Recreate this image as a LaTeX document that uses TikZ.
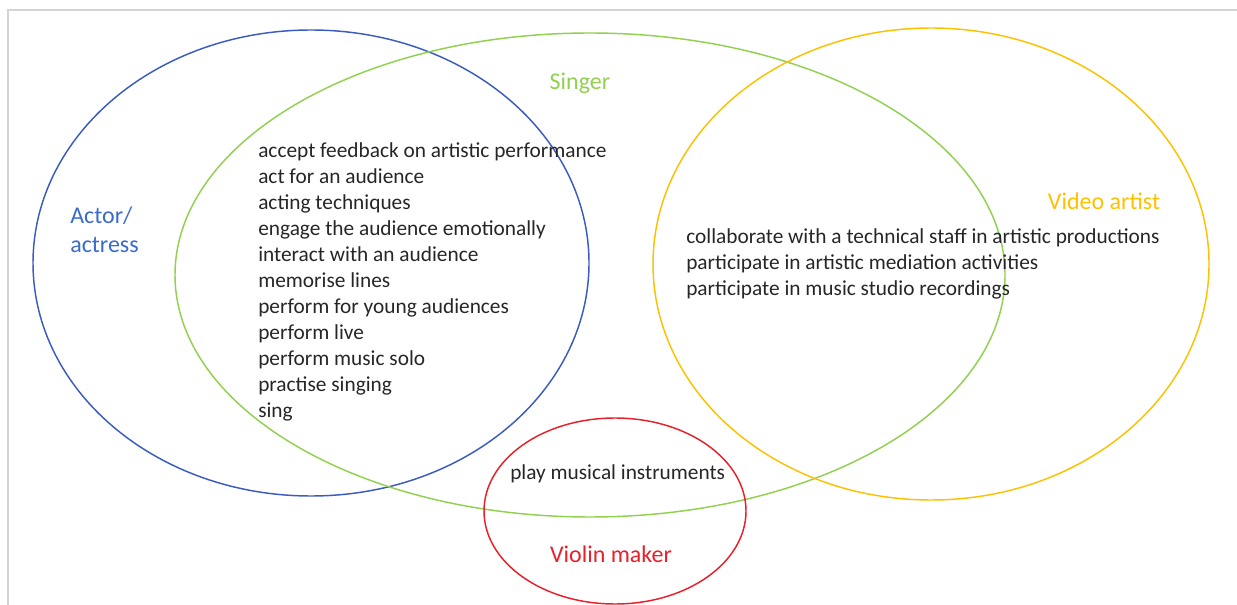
\documentclass[tikz,border=0pt]{standalone}
\usepackage{fontspec}
\setmainfont{Carlito}
\begin{document}
\definecolor{actorblue}{HTML}{3A6BCC}
\definecolor{actorline}{HTML}{3A5CC0}
\definecolor{singergreen}{HTML}{92D050}
\definecolor{videogold}{HTML}{FFC000}
\definecolor{violinred}{HTML}{E8202A}
\definecolor{framegray}{HTML}{D4D4D4}
\begin{tikzpicture}[x=0.75pt,y=-0.75pt,
  setline/.style={line width=1.1pt},
  itemlist/.style={anchor=north west,inner sep=0pt,align=left,text=black!85,
    font=\fontsize{16}{19.5}\selectfont},
  setlabel/.style={inner sep=0pt,font=\fontsize{18}{22}\selectfont}]
\useasboundingbox (0,0) rectangle (1237,605);
% frame edges
\draw[framegray,line width=1.5pt] (8,605) -- (8,10) -- (1237,10);
% the four sets
\draw[setline,actorline] (311,263) ellipse [x radius=278,y radius=233];
\draw[setline,singergreen] (590,275) ellipse [x radius=415,y radius=242];
\draw[setline,videogold] (931,264) ellipse [x radius=278,y radius=236];
\draw[setline,violinred] (615,511) ellipse [x radius=131,y radius=93];
% set names
\node[setlabel,text=singergreen] (singer) at (580,83) {Singer};
\node[setlabel,text=actorblue,anchor=west,align=left] (actor) at (70,230) {Actor/\\actress};
\node[setlabel,text=videogold] (video) at (1104,201) {Video artist};
\node[setlabel,text=violinred] (violin) at (611,554) {Violin maker};
% shared skills
\node[itemlist] (actsing) at (258,142) {accept feedback on artistic performance\\
act for an audience\\
acting techniques\\
engage the audience emotionally\\
interact with an audience\\
memorise lines\\
perform for young audiences\\
perform live\\
perform music solo\\
practise singing\\
sing};
\node[itemlist] (singvideo) at (686,228) {collaborate with a technical staff in artistic productions\\
participate in artistic mediation activities\\
participate in music studio recordings};
\node[itemlist] (singviolin) at (510,464) {play musical instruments};
\end{tikzpicture}
\end{document}
